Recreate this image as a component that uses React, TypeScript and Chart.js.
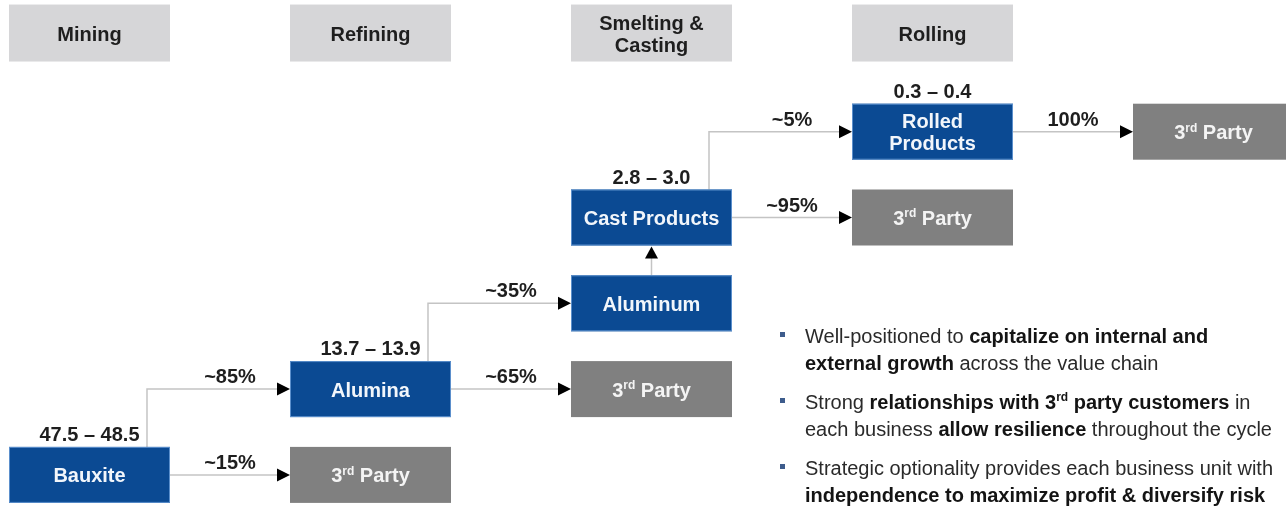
import React, { useEffect, useRef } from 'react';
import { Chart, registerables } from 'chart.js';

Chart.register(...registerables);

// ---- data ----
const stageNames = ['Mining', 'Refining', 'Smelting &\nCasting', 'Rolling'];
const stageColumn = [0, 1, 2, 3];
const headerLevel = 5.15;

const nodeNames = ['Bauxite', 'Alumina', 'Aluminum', 'Cast Products', 'Rolled\nProducts', '3^rd^ Party', '3^rd^ Party', '3^rd^ Party', '3^rd^ Party'];
const nodeColumn = [0, 1, 2, 2, 3, 1, 2, 3, 4];
const nodeLevel = [0, 1, 2, 3, 4, 0, 1, 3, 4];
const nodeOwned = [true, true, true, true, true, false, false, false, false];
const nodeVolume = ['47.5 – 48.5', '13.7 – 13.9', '', '2.8 – 3.0', '0.3 – 0.4', '', '', '', ''];

const flowFrom = [0, 0, 1, 1, 2, 3, 3, 4];
const flowTo = [1, 5, 2, 6, 3, 4, 7, 8];
const flowShare = ['~85%', '~15%', '~35%', '~65%', '', '~5%', '~95%', '100%'];

const bulletTexts = [
  'Well-positioned to **capitalize on internal and**\n**external growth** across the value chain',
  'Strong **relationships with 3^rd^ party customers** in\neach business **allow resilience** throughout the cycle',
  'Strategic optionality provides each business unit with\n**independence to maximize profit & diversify risk**',
];

// ---- drawing helpers ----
const FF = '"Liberation Sans", Arial, Helvetica, sans-serif';
const BOX_W = 161;
const BOX_H = 56;
const BLUE = '#0b4a93';
const GREY = '#808080';
const HEADER = '#d6d6d8';
const LINE = '#c4c4c4';

type Seg = { t: string; bold: boolean; sup: boolean };

function parseRich(text: string): Seg[] {
  const parts = text.split(/(\*\*|\^)/);
  let bold = false;
  let sup = false;
  const out: Seg[] = [];
  for (const p of parts) {
    if (p === '**') { bold = !bold; continue; }
    if (p === '^') { sup = !sup; continue; }
    if (p) out.push({ t: p, bold, sup });
  }
  return out;
}

function fontFor(seg: Seg, size: number, baseBold: boolean) {
  const s = seg.sup ? Math.round(size * 0.6) : size;
  return `${seg.bold || baseBold ? 'bold ' : ''}${s}px ${FF}`;
}

function drawRich(ctx: CanvasRenderingContext2D, text: string, x: number, y: number, align: 'left' | 'center', size: number, baseBold: boolean, color: string, boldColor?: string) {
  const segs = parseRich(text);
  let total = 0;
  const widths: number[] = [];
  for (const s of segs) {
    ctx.font = fontFor(s, size, baseBold);
    const w = ctx.measureText(s.t).width;
    widths.push(w);
    total += w;
  }
  let cx = align === 'center' ? x - total / 2 : x;
  ctx.textAlign = 'left';
  ctx.textBaseline = 'alphabetic';
  segs.forEach((s, i) => {
    ctx.font = fontFor(s, size, baseBold);
    ctx.fillStyle = s.bold && boldColor ? boldColor : color;
    ctx.fillText(s.t, cx, s.sup ? y - size * 0.38 : y);
    cx += widths[i];
  });
}

function drawMultiline(ctx: CanvasRenderingContext2D, text: string, cx: number, cy: number, size: number, color: string) {
  const lines = text.split('\n');
  const lh = 22;
  const first = cy + 7.5 - ((lines.length - 1) * lh) / 2;
  lines.forEach((ln, i) => drawRich(ctx, ln, cx, first + i * lh, 'center', size, true, color));
}

function arrowHead(ctx: CanvasRenderingContext2D, x: number, y: number, dir: 'right' | 'up') {
  ctx.beginPath();
  if (dir === 'right') {
    ctx.moveTo(x, y);
    ctx.lineTo(x - 13, y - 6.5);
    ctx.lineTo(x - 13, y + 6.5);
  } else {
    ctx.moveTo(x, y);
    ctx.lineTo(x - 6.5, y + 12);
    ctx.lineTo(x + 6.5, y + 12);
  }
  ctx.closePath();
  ctx.fillStyle = '#000';
  ctx.fill();
}

const flowPlugin = {
  id: 'flowPlugin',
  afterDatasetsDraw(chart: any) {
    const ctx: CanvasRenderingContext2D = chart.ctx;
    const xs = chart.scales.x;
    const ys = chart.scales.y;
    const meta = chart.getDatasetMeta(0);
    const pts = meta.data.map((el: any) => ({ x: el.x, y: el.y }));
    const box = (i: number) => ({
      l: pts[i].x - BOX_W / 2, r: pts[i].x + BOX_W / 2,
      t: pts[i].y - BOX_H / 2, b: pts[i].y + BOX_H / 2,
      cx: pts[i].x, cy: pts[i].y,
    });
    ctx.save();

    // stage headers
    stageNames.forEach((name, i) => {
      const cx = xs.getPixelForValue(stageColumn[i]);
      const cy = ys.getPixelForValue(headerLevel);
      ctx.fillStyle = HEADER;
      ctx.fillRect(cx - BOX_W / 2, cy - 28.5, BOX_W, 57);
      drawMultiline(ctx, name, cx, cy, 20, '#1e1e1e');
    });

    // flows
    flowFrom.forEach((f, k) => {
      const s = box(f);
      const t = box(flowTo[k]);
      ctx.strokeStyle = LINE;
      ctx.lineWidth = 1.5;
      let labelY = 0;
      ctx.beginPath();
      if (Math.abs(s.cx - t.cx) < 1) {
        ctx.moveTo(s.cx, s.t);
        ctx.lineTo(t.cx, t.b + 6);
        ctx.stroke();
        arrowHead(ctx, t.cx, t.b + 1, 'up');
        return;
      } else if (Math.abs(s.cy - t.cy) < 1) {
        ctx.moveTo(s.r, s.cy);
        ctx.lineTo(t.l - 6, t.cy);
        labelY = s.cy;
      } else {
        const vx = s.r - 23;
        ctx.moveTo(vx, s.t);
        ctx.lineTo(vx, t.cy);
        ctx.lineTo(t.l - 6, t.cy);
        labelY = t.cy;
      }
      ctx.stroke();
      arrowHead(ctx, t.l, t.cy, 'right');
      if (flowShare[k]) {
        ctx.font = `bold 20px ${FF}`;
        ctx.fillStyle = '#1e1e1e';
        ctx.textAlign = 'center';
        ctx.textBaseline = 'alphabetic';
        ctx.fillText(flowShare[k], (s.r + t.l) / 2, labelY - 6);
      }
    });

    // nodes
    nodeNames.forEach((name, i) => {
      const b = box(i);
      if (nodeOwned[i]) {
        ctx.fillStyle = BLUE;
        ctx.fillRect(b.l, b.t, BOX_W, BOX_H);
        ctx.strokeStyle = '#5b8fcc';
        ctx.lineWidth = 1;
        ctx.strokeRect(b.l + 0.5, b.t + 0.5, BOX_W - 1, BOX_H - 1);
      } else {
        ctx.fillStyle = GREY;
        ctx.fillRect(b.l, b.t, BOX_W, BOX_H);
      }
      drawMultiline(ctx, name, b.cx, b.cy, 20, nodeOwned[i] ? '#f2f6fb' : '#f4f4f4');
      if (nodeVolume[i]) {
        ctx.font = `bold 20px ${FF}`;
        ctx.fillStyle = '#1e1e1e';
        ctx.textAlign = 'center';
        ctx.textBaseline = 'alphabetic';
        ctx.fillText(nodeVolume[i], b.cx, b.t - 6);
      }
    });

    // bullets
    const area = chart.chartArea;
    let baseY = area.top + 343;
    bulletTexts.forEach((txt) => {
      const lines = txt.split('\n');
      ctx.fillStyle = '#3d5c8c';
      ctx.fillRect(area.left + 780, baseY - 11, 5, 5);
      lines.forEach((ln, j) => {
        drawRich(ctx, ln, area.left + 805, baseY + j * 27, 'left', 20, false, '#2a2a2a', '#141414');
      });
      baseY += 66;
    });

    ctx.restore();
  },
};

export default function App() {
  const ref = useRef<HTMLCanvasElement | null>(null);
  useEffect(() => {
    if (!ref.current) return;
    const chart = new Chart(ref.current, {
      type: 'scatter',
      data: {
        datasets: [
          {
            label: 'nodes',
            data: nodeColumn.map((c, i) => ({ x: c, y: nodeLevel[i] })),
            pointRadius: 0,
            pointHoverRadius: 0,
          },
        ],
      },
      options: {
        animation: false,
        responsive: true,
        maintainAspectRatio: false,
        events: [],
        layout: { padding: 0 },
        plugins: { legend: { display: false }, tooltip: { enabled: false } },
        scales: {
          x: { type: 'linear', min: -0.3185, max: 4.258, display: false },
          y: { type: 'linear', min: -0.3625, max: 5.535, display: false },
        },
      },
      plugins: [flowPlugin],
    } as any);
    return () => chart.destroy();
  }, []);
  return (
    <div style={{ position: 'absolute', left: 0, top: 0, width: 1286, height: 506, background: '#fff' }}>
      <canvas ref={ref} />
    </div>
  );
}
